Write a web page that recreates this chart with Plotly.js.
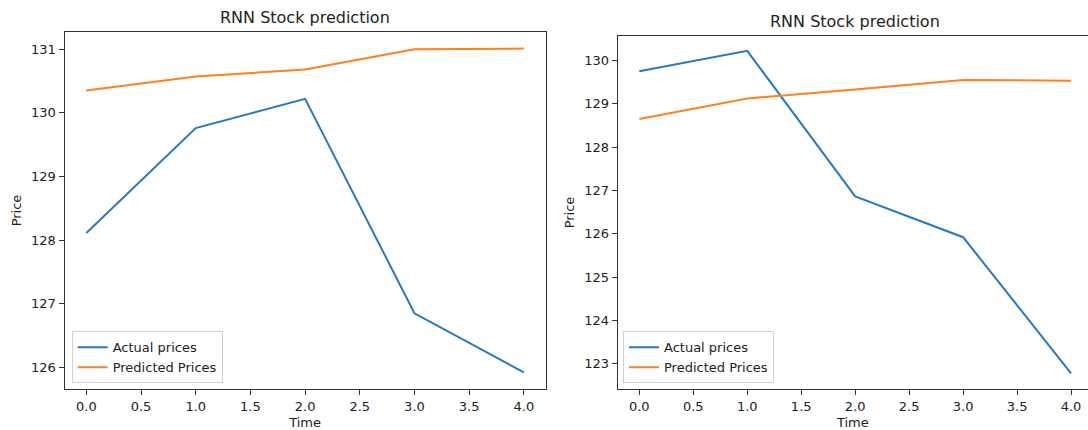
<!DOCTYPE html>
<html>
<head>
<meta charset="utf-8">
<script src="https://cdn.plot.ly/plotly-3.0.1.min.js"></script>
<style>html,body{margin:0;padding:0;background:#fff;}#chart{width:1088px;height:430px;}</style>
</head>
<body>
<div id="chart"></div>
<script>
const time = [0, 1, 2, 3, 4];
const leftActual = [128.11, 129.76, 130.22, 126.85, 125.92];
const leftPredicted = [130.35, 130.57, 130.68, 131.0, 131.01];
const rightActual = [129.75, 130.22, 126.86, 125.92, 122.78];
const rightPredicted = [128.65, 129.12, 129.33, 129.55, 129.53];
const chartTitle = "RNN Stock prediction";
const xLabel = "Time";
const yLabel = "Price";
const actualName = "Actual prices";
const predictedName = "Predicted Prices";

const BLUE = "#2a78b8", ORANGE = "#fb8122";
const FONT = "DejaVu Sans, sans-serif";
const W = 1088, H = 430;

const L = {x0: 64.5, x1: 545.7, y0: 32, y1: 389};
const R = {x0: 617.7, x1: 1088, y0: 35.7, y1: 389.3};
function dx(a, b) { return [a / W, b / W]; }
function dy(top, bot) { return [(H - bot) / H, (H - top) / H]; }

const traces = [
  {x: time, y: leftActual, name: actualName, type: "scatter", mode: "lines", line: {color: BLUE, width: 2}, xaxis: "x", yaxis: "y", legend: "legend"},
  {x: time, y: leftPredicted, name: predictedName, type: "scatter", mode: "lines", line: {color: ORANGE, width: 2}, xaxis: "x", yaxis: "y", legend: "legend"},
  {x: time, y: rightActual, name: actualName, type: "scatter", mode: "lines", line: {color: BLUE, width: 2}, xaxis: "x2", yaxis: "y2", legend: "legend2"},
  {x: time, y: rightPredicted, name: predictedName, type: "scatter", mode: "lines", line: {color: ORANGE, width: 2}, xaxis: "x2", yaxis: "y2", legend: "legend2"}
];

const axBase = {
  showgrid: false, zeroline: false, showline: true, linecolor: "#333", linewidth: 1,
  ticks: "outside", ticklen: 5, tickwidth: 1, tickcolor: "#333",
  tickfont: {family: FONT, size: 13, color: "#222"}, fixedrange: true
};
const legBase = {
  font: {family: FONT, size: 13, color: "#222"}, bgcolor: "rgba(255,255,255,0.8)",
  bordercolor: "#d0d0d0", borderwidth: 1, xanchor: "left", yanchor: "bottom",
  tracegroupgap: 0, itemwidth: 30
};

const layout = {
  width: W, height: H, margin: {l: 0, r: 0, t: 0, b: 0},
  paper_bgcolor: "#fff", plot_bgcolor: "#fff", showlegend: true,
  xaxis: Object.assign({}, axBase, {domain: dx(L.x0, L.x1), range: [-0.2, 4.2], tick0: 0, dtick: 0.5, tickformat: ".1f", mirror: true, anchor: "y",
    title: {text: xLabel, font: {family: FONT, size: 13, color: "#222"}, standoff: 6}}),
  yaxis: Object.assign({}, axBase, {domain: dy(L.y0, L.y1), range: [125.66, 131.27], dtick: 1, mirror: true, anchor: "x",
    title: {text: yLabel, font: {family: FONT, size: 13, color: "#222"}, standoff: 6}}),
  xaxis2: Object.assign({}, axBase, {domain: dx(R.x0, R.x1), range: [-0.2, 4.157], tick0: 0, dtick: 0.5, tickformat: ".1f", mirror: true, anchor: "y2",
    title: {text: xLabel, font: {family: FONT, size: 13, color: "#222"}, standoff: 6}}),
  yaxis2: Object.assign({}, axBase, {domain: dy(R.y0, R.y1), range: [122.41, 130.57], dtick: 1, anchor: "x2",
    title: {text: yLabel, font: {family: FONT, size: 13, color: "#222"}, standoff: 6}}),
  legend: Object.assign({}, legBase, {x: 71.7 / W, y: (H - 383.3) / H}),
  legend2: Object.assign({}, legBase, {x: 623 / W, y: (H - 383.3) / H}),
  annotations: [
    {text: chartTitle, xref: "paper", yref: "paper", x: (L.x0 + L.x1) / 2 / W, y: (H - L.y0) / H, xanchor: "center", yanchor: "bottom", yshift: 3, showarrow: false, font: {family: FONT, size: 16, color: "#222"}},
    {text: chartTitle, xref: "paper", yref: "paper", x: 855 / W, y: (H - R.y0) / H, xanchor: "center", yanchor: "bottom", yshift: 3, showarrow: false, font: {family: FONT, size: 16, color: "#222"}}
  ]
};

Plotly.newPlot("chart", traces, layout, {staticPlot: true, displayModeBar: false});
</script>
</body>
</html>
